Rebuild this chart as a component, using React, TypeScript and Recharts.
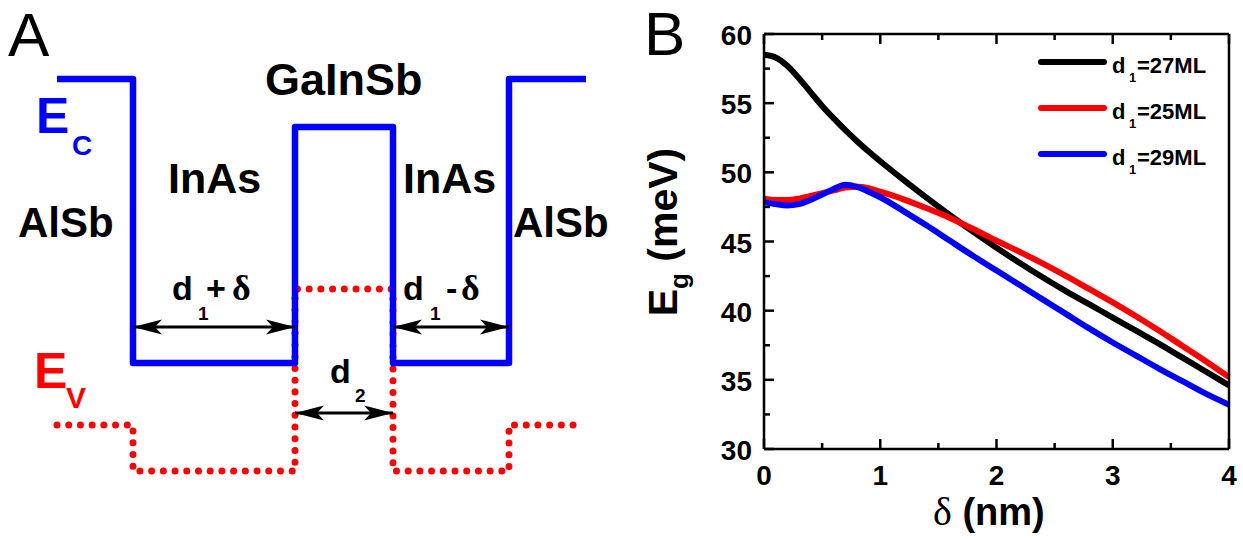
import React from 'react';
import { LineChart, Line, XAxis, YAxis, Legend } from 'recharts';

// ---- panel B: band gap vs. delta ----
const delta = [0, 0.1, 0.2, 0.3, 0.4, 0.5, 0.6, 0.7, 0.8, 0.9, 1.0, 1.2, 1.4, 1.6, 1.8, 2.0, 2.2, 2.4, 2.6, 2.8, 3.0, 3.2, 3.4, 3.6, 3.8, 4.0];
const eg27 = [58.5, 58.3, 57.7, 56.8, 55.8, 54.8, 53.9, 53.05, 52.25, 51.5, 50.8, 49.45, 48.15, 46.9, 45.7, 44.55, 43.45, 42.4, 41.4, 40.45, 39.5, 38.55, 37.6, 36.6, 35.6, 34.6];
const eg25 = [48.1, 48.0, 48.0, 48.1, 48.3, 48.5, 48.7, 48.9, 48.95, 48.85, 48.6, 48.05, 47.4, 46.7, 45.9, 45.05, 44.25, 43.4, 42.5, 41.55, 40.6, 39.6, 38.55, 37.45, 36.35, 35.2];
const eg29 = [47.85, 47.7, 47.6, 47.7, 48.0, 48.4, 48.8, 49.1, 48.95, 48.6, 48.2, 47.2, 46.15, 45.05, 43.95, 42.9, 41.85, 40.8, 39.75, 38.7, 37.7, 36.75, 35.8, 34.9, 34.0, 33.2];
const seriesKeys = ['d27', 'd25', 'd29'];
const seriesNames = ['27ML', '25ML', '29ML'];
const seriesColors = ['#000000', '#ff0000', '#0000ff'];
const xTicks = [0, 0.5, 1, 1.5, 2, 2.5, 3, 3.5, 4];
const yTicks = [30, 32.5, 35, 37.5, 40, 42.5, 45, 47.5, 50, 52.5, 55, 57.5, 60];

// ---- panel A: band edge profile (position in nm, energy in eV, schematic) ----
const ecPos = [0, 3.8, 3.8, 11.9, 11.9, 16.8, 16.8, 22.6, 22.6, 26.45];
const ecLevel = [1.307, 1.307, 0.36, 0.36, 1.147, 1.147, 0.36, 0.36, 1.307, 1.307];
const evPos = [0, 3.8, 3.8, 11.9, 11.9, 16.8, 16.8, 22.6, 22.6, 26.15];
const evLevel = [0.153, 0.153, 0, 0, 0.607, 0.607, 0, 0, 0.153, 0.153];
const arrowFrom = [3.8, 16.8, 11.9];
const arrowTo = [11.9, 22.6, 16.8];
const arrowLevel = [0.48, 0.48, 0.193];

const gapData = delta.map((d, i) => ({ delta: d, d27: eg27[i], d25: eg25[i], d29: eg29[i] }));
const ecData = ecPos.map((p, i) => ({ pos: p, e: ecLevel[i] }));
const evData = evPos.map((p, i) => ({ pos: p, e: evLevel[i] }));
const arrowData = arrowFrom.map((f, i) => [
  { pos: f, e: arrowLevel[i] },
  { pos: arrowTo[i], e: arrowLevel[i] },
]);

const SANS = '"Liberation Sans", Arial, sans-serif';
const SERIF = '"Liberation Serif", "Times New Roman", serif';

const BottomTick = (props: any) => {
  const { x, y, payload } = props;
  const major = Number.isInteger(payload.value);
  return (
    <g>
      <line x1={x} x2={x} y1={y} y2={y - (major ? 10 : 6)} stroke="#000" strokeWidth={2.5} />
      {major && (
        <text x={x} y={y + 36} textAnchor="middle" fontSize={28} fontWeight="bold" fontFamily={SANS} fill="#000">
          {payload.value}
        </text>
      )}
    </g>
  );
};

const TopTick = (props: any) => {
  const { x, y, payload } = props;
  const major = Number.isInteger(payload.value);
  return <line x1={x} x2={x} y1={y} y2={y + (major ? 10 : 6)} stroke="#000" strokeWidth={2.5} />;
};

const LeftTick = (props: any) => {
  const { x, y, payload } = props;
  const major = payload.value % 5 === 0;
  return (
    <g>
      <line x1={x} x2={x + (major ? 10 : 6)} y1={y} y2={y} stroke="#000" strokeWidth={2.5} />
      {major && (
        <text x={x - 12} y={y + 11} textAnchor="end" fontSize={28} fontWeight="bold" fontFamily={SANS} fill="#000">
          {payload.value}
        </text>
      )}
    </g>
  );
};

const RightTick = (props: any) => {
  const { x, y, payload } = props;
  const major = payload.value % 5 === 0;
  return <line x1={x} x2={x - (major ? 10 : 6)} y1={y} y2={y} stroke="#000" strokeWidth={2.5} />;
};

// keep the plotting order (27, 25, 29) instead of the legend's sorted order
const LegendBox = (props: any) => {
  const items = [...(props.payload || [])].sort(
    (a: any, b: any) => seriesNames.indexOf(a.value) - seriesNames.indexOf(b.value)
  );
  return (
    <svg width={190} height={140}>
      {items.map((it: any, i: number) => {
        const cy = 23 + i * 46;
        return (
          <g key={i}>
            <line x1={3} x2={66} y1={cy} y2={cy} stroke={it.color} strokeWidth={6} strokeLinecap="round" />
            <text x={74} y={cy + 11} fontSize={22} fontWeight="bold" fontFamily={SANS} fill="#000">
              d
            </text>
            <text x={91} y={cy + 20} fontSize={13} fontWeight="bold" fontFamily={SANS} fill="#000">
              1
            </text>
            <text x={99} y={cy + 11} fontSize={22} fontWeight="bold" fontFamily={SANS} fill="#000">
              ={it.value}
            </text>
          </g>
        );
      })}
    </svg>
  );
};

const txt = (x: number, y: number, s: string, size: number, color = '#000', family = SANS, weight: any = 'bold') => (
  <text x={x} y={y} fontSize={size} fontWeight={weight} fontFamily={family} fill={color}>
    {s}
  </text>
);

const App: React.FC = () => {
  return (
    <div style={{ position: 'absolute', left: 0, top: 0, width: 1243, height: 539, background: '#fff', overflow: 'hidden' }}>
      <svg width={0} height={0} style={{ position: 'absolute' }}>
        <defs>
          <marker id="ahead" markerUnits="userSpaceOnUse" markerWidth={32} markerHeight={20} refX={30} refY={10} orient="auto-start-reverse">
            <path d="M30,10 L1,2.5 L8,10 L1,17.5 Z" fill="#000" />
          </marker>
        </defs>
      </svg>

      {/* panel A */}
      <div style={{ position: 'absolute', left: 0, top: 0 }}>
        <LineChart width={640} height={539} margin={{ top: 79, right: 54, bottom: 68, left: 57 }}>
          <XAxis type="number" dataKey="pos" domain={[0, 26.45]} hide />
          <YAxis type="number" dataKey="e" domain={[0, 1.307]} hide />
          <Line data={evData} dataKey="e" type="linear" stroke="#ff0000" strokeWidth={7} strokeDasharray="0.01 11.7" strokeLinecap="round" dot={false} isAnimationActive={false} />
          <Line data={ecData} dataKey="e" type="linear" stroke="#0000ff" strokeWidth={6.5} strokeLinejoin="round" dot={false} isAnimationActive={false} />
          {arrowData.map((seg, i) => (
            <Line key={i} data={seg} dataKey="e" type="linear" stroke="#000" strokeWidth={3} dot={false} isAnimationActive={false} markerStart="url(#ahead)" markerEnd="url(#ahead)" />
          ))}
        </LineChart>
      </div>

      {/* panel B */}
      <div style={{ position: 'absolute', left: 640, top: 0 }}>
        <LineChart width={603} height={539} data={gapData} margin={{ top: 33, right: 13, bottom: 30, left: 64 }}>
          <XAxis type="number" dataKey="delta" domain={[0, 4]} ticks={xTicks} interval={0} height={60} tickSize={0} tickMargin={0} tickLine={false} tick={<BottomTick />} axisLine={{ stroke: '#000', strokeWidth: 2.5 }} />
          <XAxis xAxisId="top" orientation="top" type="number" dataKey="delta" domain={[0, 4]} ticks={xTicks} interval={0} height={1} tickSize={0} tickMargin={0} tickLine={false} tick={<TopTick />} axisLine={{ stroke: '#000', strokeWidth: 2.5 }} />
          <YAxis type="number" domain={[30, 60]} ticks={yTicks} interval={0} width={60} tickSize={0} tickMargin={0} tickLine={false} tick={<LeftTick />} axisLine={{ stroke: '#000', strokeWidth: 2.5 }} />
          <YAxis yAxisId="right" orientation="right" type="number" domain={[30, 60]} ticks={yTicks} interval={0} width={1} tickSize={0} tickMargin={0} tickLine={false} tick={<RightTick />} axisLine={{ stroke: '#000', strokeWidth: 2.5 }} />
          {seriesKeys.map((k, i) => (
            <Line key={k} dataKey={k} name={seriesNames[i]} type="monotone" stroke={seriesColors[i]} strokeWidth={6} dot={false} isAnimationActive={false} />
          ))}
          <Legend layout="vertical" align="center" verticalAlign="middle" content={<LegendBox />} wrapperStyle={{ left: 398, top: 39, width: 190, height: 140 }} />
        </LineChart>
      </div>

      {/* labels */}
      <svg width={1243} height={539} style={{ position: 'absolute', left: 0, top: 0, pointerEvents: 'none' }}>
        {txt(8, 56, 'A', 62, '#000', SANS, 'normal')}
        {txt(644, 55, 'B', 62, '#000', SANS, 'normal')}
        {txt(36, 133, 'E', 50, '#0000ff')}
        {txt(72, 155, 'C', 28, '#0000ff')}
        {txt(34, 388, 'E', 50, '#ff0000')}
        {txt(66, 408, 'V', 30, '#ff0000')}
        {txt(18, 237, 'AlSb', 42)}
        {txt(168, 193, 'InAs', 43)}
        {txt(265, 95, 'GaInSb', 45)}
        {txt(403, 193, 'InAs', 43)}
        {txt(513, 237, 'AlSb', 42)}
        {txt(172, 300, 'd', 34)}
        {txt(198, 320, '1', 19)}
        {txt(206, 300, '+', 34)}
        {txt(232, 300, 'δ', 36, '#000', SERIF)}
        {txt(403, 300, 'd', 34)}
        {txt(430, 320, '1', 19)}
        {txt(446, 300, '-', 34)}
        {txt(461, 300, 'δ', 36, '#000', SERIF)}
        {txt(330, 383, 'd', 34)}
        {txt(355, 402, '2', 19)}
        <text x={933} y={525} fontSize={38} fontWeight="bold" fontFamily={SANS} fill="#000">
          <tspan fontFamily={SERIF} fontWeight="normal" fontSize={40}>δ</tspan> (nm)
        </text>
        <text transform="translate(677,232) rotate(-90)" textAnchor="middle" fontSize={41} fontWeight="bold" fontFamily={SANS} fill="#000">
          E<tspan fontSize={26} dy={11}>g</tspan>
          <tspan dy={-11}> (meV)</tspan>
        </text>
      </svg>
    </div>
  );
};

export default App;
